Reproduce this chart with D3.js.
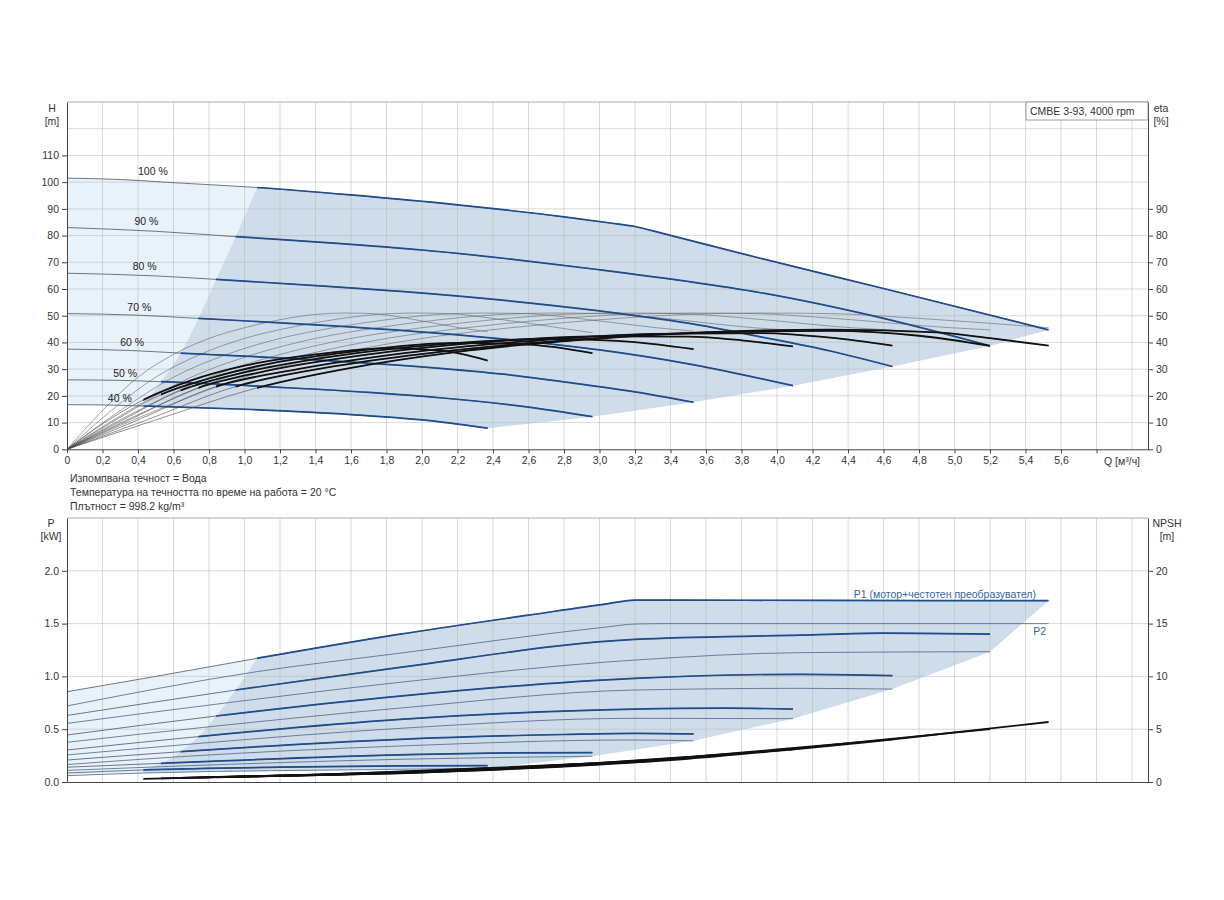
<!DOCTYPE html>
<html>
<head>
<meta charset="utf-8">
<script src="https://cdn.jsdelivr.net/npm/d3@7"></script>
<style>
  body { margin: 0; background: #fff; }
  svg { font-family: "Liberation Sans", Arial, sans-serif; }
</style>
</head>
<body>
<svg id="chart" width="1224" height="900"></svg>
<script>
// speed steps, index 0 = 100 %
const speeds = ["100 %", "90 %", "80 %", "70 %", "60 %", "50 %", "40 %"];
const qStart = [1.07, 0.95, 0.84, 0.74, 0.64, 0.53, 0.43];

// H [m] over Q [m3/h]
const headCurves = [
  [[0,101.5],[0.3,101],[0.6,99.8],[1.07,98],[1.6,95.2],[2.2,91.5],[2.8,87],[3.05,84.8],[3.2,83.4],[3.35,80.9],[3.9,71.6],[4.6,60.2],[5.53,44.7]],
  [[0,83],[0.5,81.6],[0.95,79.6],[1.5,77.2],[2.0,74.6],[2.5,71.2],[3.0,67.2],[3.5,62.8],[3.9,58.7],[4.6,49],[5.2,38.7]],
  [[0,65.9],[0.5,64.9],[0.84,63.6],[1.4,61.3],[1.9,59],[2.5,55.5],[3.0,51.8],[3.5,47.2],[3.9,42.2],[4.3,36.8],[4.65,31]],
  [[0,50.8],[0.4,50.2],[0.74,49],[1.5,46.2],[2.1,43.4],[2.6,40.3],[3.0,37.2],[3.5,32],[4.09,23.8]],
  [[0,37.5],[0.35,37],[0.64,36],[1.4,33.5],[2.1,30.3],[2.5,27.8],[2.85,24.8],[3.2,21.5],[3.53,17.6]],
  [[0,26],[0.3,25.8],[0.53,25.3],[1.2,23.2],[1.7,21.3],[2.1,19.3],[2.6,15.8],[2.96,12.2]],
  [[0,16.7],[0.2,16.6],[0.43,16.2],[1.0,15],[1.6,13],[2.1,10.3],[2.37,7.9]]
];

// eta total (motor + converter) [%]
const etaCurves = [
  [[0,0],[0.5,11],[1.07,23],[1.6,30.5],[2.2,36.5],[2.9,41],[3.6,43.8],[4.3,44.8],[4.9,43.8],[5.2,41.6],[5.53,38.8]],
  [[0,0],[0.45,11],[0.95,23.5],[1.5,31],[2.1,36.5],[2.9,41.2],[3.6,43.8],[4.3,44.3],[4.8,42.5],[5.2,38.7]],
  [[0,0],[0.4,11],[0.84,23.5],[1.3,30],[1.9,36],[2.6,40.5],[3.3,43.2],[3.9,43.5],[4.3,41.8],[4.65,38.8]],
  [[0,0],[0.35,11],[0.74,23],[1.1,29],[1.7,35.5],[2.3,39.8],[3.0,42.3],[3.5,42.2],[3.8,40.8],[4.09,38.5]],
  [[0,0],[0.3,10.5],[0.64,22],[1.0,28.8],[1.5,34.8],[2.1,39.3],[2.7,41.3],[3.1,40.6],[3.53,37.5]],
  [[0,0],[0.25,10],[0.53,20.5],[0.8,26.5],[1.1,31.5],[1.6,36.5],[2.2,39.8],[2.6,39.2],[2.96,36]],
  [[0,0],[0.2,9.5],[0.43,18.5],[0.7,25.8],[1.0,31.3],[1.4,35.5],[1.8,37.8],[2.1,37],[2.37,33.2]]
];

// eta pump [%]
const etaPumpCurves = [
  [[0,0],[0.5,14.5],[1.0,27],[1.5,35.5],[2.0,41.5],[2.5,45.5],[3.0,48.5],[3.5,50.5],[3.9,51],[4.3,50.8],[4.8,49],[5.53,45.5]],
  [[0,0],[0.45,14.5],[0.9,27],[1.35,35.5],[1.8,41.5],[2.25,45.5],[2.7,48.5],[3.15,50.5],[3.51,51],[3.87,50.8],[4.32,49],[4.98,45.5],[5.2,44.7]],
  [[0,0],[0.4,14.5],[0.8,27],[1.2,35.5],[1.6,41.5],[2.0,45.5],[2.4,48.5],[2.8,50.5],[3.12,51],[3.44,50.8],[3.84,49],[4.42,45.5],[4.65,44.6]],
  [[0,0],[0.35,14.5],[0.7,27],[1.05,35.5],[1.4,41.5],[1.75,45.5],[2.1,48.5],[2.45,50.5],[2.73,51],[3.01,50.8],[3.36,49],[3.87,45.5],[4.09,44.5]],
  [[0,0],[0.3,14.5],[0.6,27],[0.9,35.5],[1.2,41.5],[1.5,45.5],[1.8,48.5],[2.1,50.5],[2.34,51],[2.58,50.8],[2.88,49],[3.32,45.5],[3.53,44.2]],
  [[0,0],[0.25,14.5],[0.5,27],[0.75,35.5],[1.0,41.5],[1.25,45.5],[1.5,48.5],[1.75,50.5],[1.95,51],[2.15,50.8],[2.4,49],[2.77,45.5],[2.96,43.6]],
  [[0,0],[0.2,14.5],[0.4,27],[0.6,35.5],[0.8,41.5],[1.0,45.5],[1.2,48.5],[1.4,50.5],[1.56,51],[1.72,50.8],[1.92,49],[2.21,45.5],[2.37,44]]
];

// P1 (motor + converter) [kW]
const p1Curves = [
  [[0,0.855],[0.5,1.0],[1.07,1.171],[1.876,1.40],[2.6,1.58],[3.05,1.69],[3.2,1.722],[3.4,1.722],[4.2,1.72],[5.53,1.717]],
  [[0,0.63],[0.95,0.871],[1.876,1.086],[3.2,1.351],[4.13,1.39],[4.6,1.41],[5.2,1.40]],
  [[0,0.445],[0.84,0.625],[1.876,0.814],[3.2,0.982],[4.13,1.02],[4.65,1.007]],
  [[0,0.303],[0.74,0.43],[1.876,0.593],[3.2,0.691],[3.7,0.70],[4.09,0.69]],
  [[0,0.208],[0.64,0.287],[1.876,0.404],[2.8,0.45],[3.2,0.461],[3.53,0.455]],
  [[0,0.14],[0.53,0.177],[1.876,0.256],[2.5,0.275],[2.96,0.278]],
  [[0,0.085],[0.43,0.114],[1.2,0.14],[1.876,0.152],[2.37,0.155]]
];

// P2 (shaft) [kW]
const p2Curves = [
  [[0,0.72],[1.07,1.045],[1.876,1.22],[3.05,1.47],[3.2,1.496],[3.4,1.5],[4.2,1.50],[5.53,1.50]],
  [[0,0.555],[0.95,0.76],[1.876,0.944],[3.2,1.155],[4.13,1.225],[5.2,1.234]],
  [[0,0.376],[0.84,0.53],[1.876,0.70],[3.2,0.871],[4.13,0.887],[4.65,0.88]],
  [[0,0.256],[0.74,0.365],[1.876,0.508],[3.2,0.603],[4.09,0.60]],
  [[0,0.165],[0.64,0.24],[1.876,0.341],[3.2,0.398],[3.53,0.39]],
  [[0,0.11],[0.53,0.145],[1.876,0.215],[2.96,0.244]],
  [[0,0.06],[0.43,0.085],[1.876,0.12],[2.37,0.13]]
];

// NPSH [m]
const npshCurves = [
  [[1.07,0.55],[2.0,0.9],[3.0,1.65],[3.5,2.2],[4.0,2.95],[4.5,3.75],[5.0,4.7],[5.53,5.68]],
  [[0.95,0.5],[2.0,0.92],[3.0,1.7],[3.5,2.28],[4.0,3.0],[4.5,3.85],[5.2,5.0]],
  [[0.84,0.45],[2.0,0.95],[3.0,1.75],[3.5,2.35],[4.0,3.08],[4.65,4.04]],
  [[0.74,0.42],[2.0,0.97],[3.0,1.8],[3.5,2.38],[4.09,3.1]],
  [[0.64,0.38],[1.5,0.72],[2.5,1.35],[3.0,1.82],[3.53,2.3]],
  [[0.53,0.34],[1.5,0.75],[2.5,1.42],[2.96,1.77]],
  [[0.43,0.3],[1.2,0.6],[2.0,1.02],[2.37,1.3]]
];

const qTicks = d3.range(0, 30).map(i => +(i * 0.2).toFixed(1));
const hTicks = d3.range(0, 111, 10);
const etaTicks = d3.range(0, 91, 10);
const pTicks = [0, 0.5, 1.0, 1.5, 2.0];
const npshTicks = [0, 5, 10, 15, 20];
const fluidNotes = [
  "Изпомпвана течност = Вода",
  "Температура на течността по време на работа = 20 °C",
  "Плътност = 998.2 kg/m³"
];

// ---- layout ----
const left = 67, right = 1148;
const x = d3.scaleLinear().domain([0, 6.09]).range([left, right]);
const yH = d3.scaleLinear().domain([0, 130]).range([449.3, 102]);
const yEta = d3.scaleLinear().domain([0, 130]).range([449.3, 102]);
const yP = d3.scaleLinear().domain([0, 2.5]).range([782, 518]);
const yN = d3.scaleLinear().domain([0, 25]).range([782, 518]);

const BLUE = "#1f4c8a", DARK = "#cfdce9", LIGHT = "#e8f2fb";
const svg = d3.select("#chart");
const defs = svg.append("defs");

qStart.forEach((q, i) => {
  defs.append("clipPath").attr("id", "cs" + i)
    .append("rect").attr("x", x(q)).attr("y", 0).attr("width", 1224).attr("height", 900);
});

const seg = (pts, yS) => d3.line().x(d => x(d[0])).y(d => yS(d[1])).curve(d3.curveMonotoneX)(pts);
const lin = (pts, yS) => d3.line().x(d => x(d[0])).y(d => yS(d[1]))(pts);
const join = parts => parts.map((p, i) => i === 0 ? p : "L" + p.slice(1)).join("") + "Z";
const at = (c, q) => c.find(d => Math.abs(d[0] - q) < 1e-9);
const upTo = (c, q) => c.filter(d => d[0] <= q + 1e-9);
const from = (c, q) => c.filter(d => d[0] >= q - 1e-9);

// ---------- operating areas ----------
function areas(top, bottom, edgeCurves, bndCurves, yS, bottomStart) {
  const bnd = qStart.map((q, i) => at(bndCurves[i], q)).reverse();
  const ends = edgeCurves.map(c => c[c.length - 1]);
  ends.push(bottom[bottom.length - 1]);
  const dark = join([
    seg(bnd, yS),
    seg(from(top, qStart[0]), yS),
    lin(ends, yS),
    seg(from(bottom, qStart[6]).reverse(), yS)
  ]);
  const lightParts = [
    seg(upTo(top, qStart[0]), yS),
    seg(bnd.slice().reverse(), yS)
  ];
  if (bottomStart) lightParts.push(lin([bnd[0], bottomStart], yS));
  lightParts.push(seg(upTo(bottom, qStart[6]).reverse(), yS));
  svg.append("path").attr("d", join(lightParts)).attr("fill", LIGHT);
  svg.append("path").attr("d", dark).attr("fill", DARK);
}

areas(headCurves[0], headCurves[6], headCurves, headCurves, yH, null);
areas(p1Curves[0], p2Curves[6], [p1Curves[0]].concat(p2Curves.slice(1, 6)), p1Curves, yP,
      at(p2Curves[6], qStart[6]));

// ---------- grids ----------
function grid(yS, values, y0, y1) {
  const g = svg.append("g").attr("stroke", "#b9b9b9").attr("stroke-opacity", 0.55).attr("stroke-width", 1);
  qTicks.concat([6.0]).filter(q => q > 0).forEach(q => {
    g.append("line").attr("x1", x(q)).attr("x2", x(q)).attr("y1", y0).attr("y2", y1);
  });
  values.forEach(v => {
    g.append("line").attr("x1", left).attr("x2", right).attr("y1", yS(v)).attr("y2", yS(v));
  });
  svg.append("line").attr("x1", left).attr("x2", right).attr("y1", y1).attr("y2", y1)
    .attr("stroke", "#b0b0b0");
}
grid(yH, d3.range(10, 121, 10), 449.3, 102);
grid(yP, [0.5, 1.0, 1.5, 2.0], 782, 518);

// ---------- top chart curves ----------
const topG = svg.append("g").attr("fill", "none");
etaPumpCurves.forEach(c => {
  topG.append("path").attr("d", seg(c, yEta)).attr("stroke", "#666").attr("stroke-width", 0.6);
});
etaCurves.forEach(c => {
  topG.append("path").attr("d", seg(c, yEta)).attr("stroke", "#444").attr("stroke-width", 0.6);
});
headCurves.forEach(c => {
  topG.append("path").attr("d", seg(c, yH)).attr("stroke", "#4a5568").attr("stroke-width", 0.8);
});
headCurves.forEach((c, i) => {
  topG.append("path").attr("d", seg(c, yH)).attr("clip-path", `url(#cs${i})`)
    .attr("stroke", BLUE).attr("stroke-width", 1.7);
});
etaCurves.forEach((c, i) => {
  topG.append("path").attr("d", seg(c, yEta)).attr("clip-path", `url(#cs${i})`)
    .attr("stroke", "#111").attr("stroke-width", 1.8);
});

const labelQ = [0.40, 0.38, 0.37, 0.34, 0.30, 0.26, 0.23];
speeds.forEach((s, i) => {
  svg.append("text").attr("x", x(labelQ[i])).attr("y", yH(headCurves[i][0][1]) - 3)
    .attr("font-size", 10.5).attr("fill", "#222").text(s);
});

// ---------- bottom chart curves ----------
const botG = svg.append("g").attr("fill", "none");
p2Curves.forEach(c => {
  botG.append("path").attr("d", seg(c, yP)).attr("stroke", "#4d6685").attr("stroke-width", 0.8);
});
p1Curves.forEach(c => {
  botG.append("path").attr("d", seg(c, yP)).attr("stroke", "#4a5568").attr("stroke-width", 0.8);
});
p1Curves.forEach((c, i) => {
  botG.append("path").attr("d", seg(c, yP)).attr("clip-path", `url(#cs${i})`)
    .attr("stroke", BLUE).attr("stroke-width", 1.7);
});
npshCurves.forEach(c => {
  botG.append("path").attr("d", seg(c, yN)).attr("stroke", "#111").attr("stroke-width", 1.8);
});

svg.append("text").attr("x", 1036).attr("y", 598).attr("text-anchor", "end")
  .attr("font-size", 10.5).attr("fill", "#3565a3").text("P1 (мотор+честотен преобразувател)");
svg.append("text").attr("x", 1046).attr("y", 635).attr("text-anchor", "end")
  .attr("font-size", 10.5).attr("fill", "#3565a3").text("P2");

// ---------- axes ----------
const fmtQ = d => d === 0 ? "0" : d3.format(".1f")(d).replace(".", ",");
function styleAxis(g) {
  g.selectAll("path, line").attr("stroke", "#444");
  g.selectAll("text").attr("fill", "#333").attr("font-size", 10.5)
    .attr("font-family", "Liberation Sans, Arial, sans-serif");
}

svg.append("g").attr("transform", "translate(0,449.3)")
  .call(d3.axisBottom(x).tickValues(qTicks).tickSize(4).tickSizeOuter(0)
    .tickFormat(d => d <= 5.61 ? fmtQ(d) : ""))
  .call(styleAxis);
svg.append("text").attr("x", 1104).attr("y", 465).attr("font-size", 10.5).attr("fill", "#333")
  .text("Q [м³/ч]");

svg.append("g").attr("transform", `translate(${left},0)`)
  .call(d3.axisLeft(yH).tickValues(hTicks).tickSize(5).tickSizeOuter(0).tickPadding(3))
  .call(styleAxis);
svg.append("g").attr("transform", `translate(${right},0)`)
  .call(d3.axisRight(yEta).tickValues(etaTicks).tickSize(5).tickSizeOuter(0).tickPadding(3))
  .call(styleAxis);

svg.append("g").attr("transform", "translate(0,782)")
  .call(d3.axisBottom(x).tickValues([]).tickSizeOuter(0))
  .call(styleAxis);
svg.append("g").attr("transform", `translate(${left},0)`)
  .call(d3.axisLeft(yP).tickValues(pTicks).tickSize(5).tickSizeOuter(0).tickPadding(3)
    .tickFormat(d3.format(".1f")))
  .call(styleAxis);
svg.append("g").attr("transform", `translate(${right},0)`)
  .call(d3.axisRight(yN).tickValues(npshTicks).tickSize(5).tickSizeOuter(0).tickPadding(3))
  .call(styleAxis);

// ---------- titles / notes ----------
const unit = (tx, ty, lines) => lines.forEach((t, i) => {
  svg.append("text").attr("x", tx).attr("y", ty + i * 13).attr("text-anchor", "middle")
    .attr("font-size", 10.5).attr("fill", "#333").text(t);
});
unit(52, 112, ["H", "[m]"]);
unit(1161, 112, ["eta", "[%]"]);
unit(51, 527, ["P", "[kW]"]);
unit(1167, 527, ["NPSH", "[m]"]);

fluidNotes.forEach((t, i) => {
  svg.append("text").attr("x", 70).attr("y", 482 + i * 14).attr("font-size", 10.5)
    .attr("fill", "#333").text(t);
});

svg.append("rect").attr("x", 1026).attr("y", 102).attr("width", right - 1026).attr("height", 18)
  .attr("fill", "#fff").attr("stroke", "#888").attr("stroke-width", 0.8);
svg.append("text").attr("x", 1030).attr("y", 115).attr("font-size", 10.5).attr("fill", "#333")
  .text("CMBE 3-93, 4000 rpm");
</script>
</body>
</html>
